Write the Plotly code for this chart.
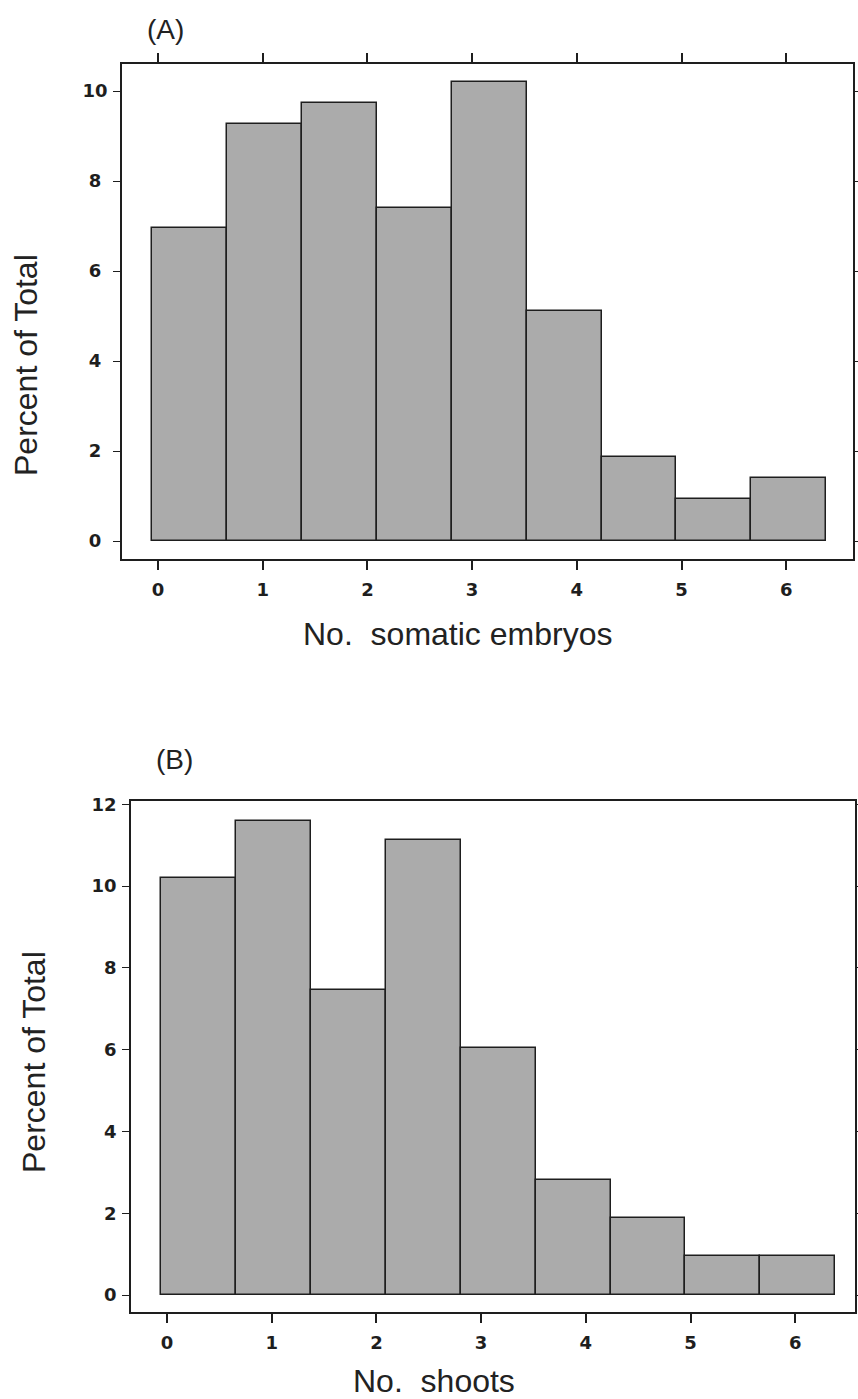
import plotly.graph_objects as go

# ---- data ----
bin_edges = [-0.06, 0.656, 1.372, 2.088, 2.804, 3.52, 4.236, 4.952, 5.668, 6.384]
pct_embryos = [6.95, 9.26, 9.73, 7.41, 10.19, 5.11, 1.87, 0.93, 1.39]
pct_shoots = [10.2, 11.58, 7.45, 11.13, 6.05, 2.8, 1.88, 0.95, 0.95]
x_ticks = [0, 1, 2, 3, 4, 5, 6]
y_ticks_a = [0, 2, 4, 6, 8, 10]
y_ticks_b = [0, 2, 4, 6, 8, 10, 12]
title_a = "(A)"
title_b = "(B)"
xlabel_a = "No.\u00a0 somatic embryos"
xlabel_b = "No.\u00a0 shoots"
ylabel = "Percent of Total"

W, H = 858, 1399
centers = [(bin_edges[i] + bin_edges[i + 1]) / 2 for i in range(len(bin_edges) - 1)]
widths = [bin_edges[i + 1] - bin_edges[i] for i in range(len(bin_edges) - 1)]

BAR = "#ababab"
INK = "#1e1e1e"
FONT = "Liberation Sans, Arial, sans-serif"
TICKFONT = "DejaVu Sans, Liberation Sans, sans-serif"


def px_x(p):
    return p / W


def px_y(p):
    return 1 - p / H


fig = go.Figure()
fig.add_trace(go.Bar(x=centers, y=pct_embryos, width=widths, marker=dict(color=BAR, line=dict(color=INK, width=1.5)),
                     xaxis="x", yaxis="y", showlegend=False))
fig.add_trace(go.Bar(x=centers, y=pct_shoots, width=widths, marker=dict(color=BAR, line=dict(color=INK, width=1.5)),
                     xaxis="x2", yaxis="y2", showlegend=False))

tickfont = dict(family=TICKFONT, size=18, color=INK, weight="bold")

# panel A geometry (pixels)
a_left, a_right, a_top, a_bot = 122, 853, 64, 559
a_zero_x, a_ppu_x = 158, 104.7
a_zero_y, a_ppu_y = 541, 45.0
# panel B geometry
b_left, b_right, b_top, b_bot = 131, 855, 801, 1312
b_zero_x, b_ppu_x = 167, 104.7
b_zero_y, b_ppu_y = 1295, 40.9

a_xr = [(a_left - a_zero_x) / a_ppu_x, (a_right - a_zero_x) / a_ppu_x]
a_yr = [-(a_bot - a_zero_y) / a_ppu_y, (a_zero_y - a_top) / a_ppu_y]
b_xr = [(b_left - b_zero_x) / b_ppu_x, (b_right - b_zero_x) / b_ppu_x]
b_yr = [-(b_bot - b_zero_y) / b_ppu_y, (b_zero_y - b_top) / b_ppu_y]

common_x = dict(showgrid=False, zeroline=False, showline=True, linecolor=INK, linewidth=1.6,
                ticks="outside", ticklen=9, tickwidth=1.6, tickcolor=INK, tickfont=tickfont,
                tickvals=x_ticks, ticktext=[str(v) for v in x_ticks], ticklabelstandoff=5,
                automargin=False)
common_y = dict(showgrid=False, zeroline=False, showline=True, linecolor=INK, linewidth=1.6,
                ticks="outside", ticklen=7, tickwidth=1.4, tickcolor=INK, tickfont=tickfont,
                mirror="allticks", ticklabelstandoff=2, automargin=False)

fig.update_layout(
    width=W, height=H, margin=dict(l=0, r=0, t=0, b=0, autoexpand=False),
    paper_bgcolor="white", plot_bgcolor="white", bargap=0,
    xaxis=dict(common_x, domain=[px_x(a_left), px_x(a_right)], range=a_xr, anchor="y", mirror="allticks"),
    yaxis=dict(common_y, domain=[px_y(a_bot), px_y(a_top)], range=a_yr, anchor="x",
               tickvals=y_ticks_a,
               ticktext=[(str(v) if v >= 10 else str(v) + "\u00a0") for v in y_ticks_a]),
    xaxis2=dict(common_x, domain=[px_x(b_left), px_x(b_right)], range=b_xr, anchor="y2", mirror=True),
    yaxis2=dict(common_y, domain=[px_y(b_bot), px_y(b_top)], range=b_yr, anchor="x2",
                tickvals=y_ticks_b, ticktext=[str(v) for v in y_ticks_b]),
    xaxis3=dict(overlaying="x2", anchor="y2", side="top", range=b_xr, showgrid=False, zeroline=False,
                showline=False, ticks="outside", ticklen=3, tickwidth=1.6, tickcolor=INK,
                tickvals=x_ticks, showticklabels=False, automargin=False),
)

ann_font_big = dict(family=FONT, size=32, color="#222")
ann_font_panel = dict(family=FONT, size=28, color="#222")
fig.add_annotation(text=title_a, x=px_x(165), y=px_y(29), xref="paper", yref="paper",
                   showarrow=False, xanchor="center", yanchor="middle", font=ann_font_panel)
fig.add_annotation(text=title_b, x=px_x(174), y=px_y(760), xref="paper", yref="paper",
                   showarrow=False, xanchor="center", yanchor="middle", font=ann_font_panel)
fig.add_annotation(text=xlabel_a, x=px_x(457), y=px_y(634), xref="paper", yref="paper",
                   showarrow=False, xanchor="center", yanchor="middle", font=ann_font_big)
fig.add_annotation(text=xlabel_b, x=px_x(434), y=px_y(1381), xref="paper", yref="paper",
                   showarrow=False, xanchor="center", yanchor="middle", font=ann_font_big)
fig.add_annotation(text=ylabel, x=px_x(26), y=px_y(365), xref="paper", yref="paper", textangle=-90,
                   showarrow=False, xanchor="center", yanchor="middle", font=ann_font_big)
fig.add_annotation(text=ylabel, x=px_x(34), y=px_y(1062), xref="paper", yref="paper", textangle=-90,
                   showarrow=False, xanchor="center", yanchor="middle", font=ann_font_big)

fig.write_html("out.html")
